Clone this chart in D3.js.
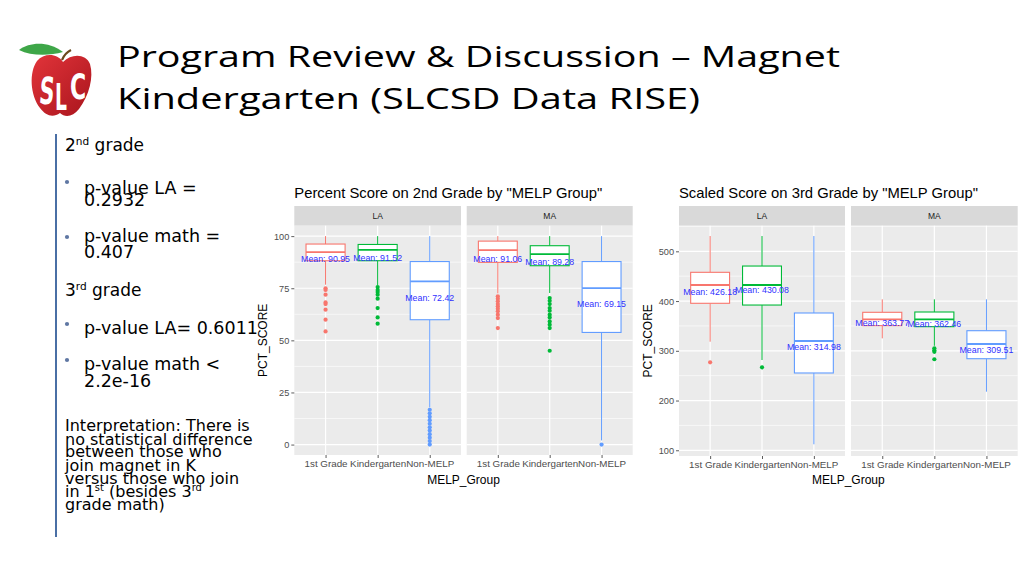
<!DOCTYPE html>
<html>
<head>
<meta charset="utf-8">
<script src="https://cdn.jsdelivr.net/npm/d3@7"></script>
<style>
  html, body { margin: 0; padding: 0; background: #fff; }
  svg { display: block; }
</style>
</head>
<body>
<svg id="slide" width="1024" height="576"></svg>
<script>
// ---------------- DATA ----------------
const groups = ["1st Grade", "Kindergarten", "Non-MELP"];
const facets = ["LA", "MA"];
const groupColors = ["#F8766D", "#00BA38", "#619CFF"];

// Chart 1: Percent Score on 2nd Grade. Box stats: [lower whisker, Q1, median, Q3, upper whisker]
const pctLABoxes = [[76.7, 88.2, 92.3, 96.2, 100], [76.5, 88.2, 93.4, 96.0, 100], [17.8, 59.9, 78.3, 87.8, 100]];
const pctMABoxes = [[72.5, 87.4, 93.3, 97.6, 100], [72.7, 85.8, 91.4, 95.4, 100], [2.0, 53.8, 75.1, 87.8, 100]];
const pctLAOutliers = [
  [75.0, 74.2, 71.9, 68.2, 67.4, 64.7, 59.9, 54.3],
  [75.6, 74.2, 73.2, 71.9, 70.0, 65.5, 61.0, 58.0],
  [16.7, 15.0, 13.3, 11.7, 10.0, 8.3, 6.7, 5.0, 3.3, 1.7, 0]
];
const pctMAOutliers = [
  [71.1, 70.0, 68.7, 67.4, 66.3, 65.2, 63.9, 62.3, 60.7, 55.9],
  [70.3, 69.0, 67.4, 65.5, 64.2, 62.3, 61.0, 59.1, 57.5, 55.9, 45.0],
  [0]
];
const pctLAMeans = [90.95, 91.52, 72.42];
const pctMAMeans = [91.06, 89.28, 69.15];
const pctTicks = [0, 25, 50, 75, 100];
const pctMinorTicks = [12.5, 37.5, 62.5, 87.5];
const pctDomain = [-5, 105];

// Chart 2: Scaled Score on 3rd Grade
const sclLABoxes = [[318.3, 395.5, 432.3, 457.8, 530.7], [281.5, 392.0, 432.3, 470.4, 530.7], [112.0, 255.4, 319.7, 376.0, 530.7]];
const sclMABoxes = [[325.0, 350.6, 363.3, 377.4, 403.5], [310.0, 348.5, 363.3, 378.0, 403.5], [217.8, 284.1, 313.7, 340.4, 403.5]];
const sclLAOutliers = [[276.9], [266.8], []];
const sclMAOutliers = [[], [305.0, 301.0, 298.0, 283.0], []];
const sclLAMeans = [426.18, 430.08, 314.98];
const sclMAMeans = [363.77, 362.46, 309.51];
const sclTicks = [100, 200, 300, 400, 500];
const sclMinorTicks = [150, 250, 350, 450, 550];
const sclDomain = [88.5, 551.5];

// ---------------- DRAWING ----------------
const svg = d3.select("#slide");

// Logo (decorative apple)
const logo = svg.append("g");
const grad = svg.append("defs").append("linearGradient").attr("id", "appleGrad")
  .attr("x1", "0").attr("y1", "0").attr("x2", "1").attr("y2", "1");
grad.append("stop").attr("offset", "0%").attr("stop-color", "#e2343a");
grad.append("stop").attr("offset", "100%").attr("stop-color", "#a9151d");
logo.append("path")
  .attr("d", "M63,62 C57,53 44,53 37,61 C29,72 30,95 40,108 C46,116 53,118 60,113 C65,118 73,117 79,109 C89,96 94,77 90,64 C86,54 72,53 63,62 Z")
  .attr("fill", "url(#appleGrad)");
logo.append("path")
  .attr("d", "M19,50 C30,42 48,41 63,52 C49,56 31,56 19,50 Z")
  .attr("fill", "#3ea648");
logo.append("path").attr("d", "M62,60 C64,55 67,52 71,50").attr("stroke", "#6b4a1e").attr("stroke-width", 2.2).attr("fill", "none");
const logoFont = "DejaVu Sans";
logo.append("text").attr("font-family", logoFont).attr("font-weight", "bold").attr("font-size", 22)
  .attr("fill", "#fff").attr("text-anchor", "middle")
  .attr("transform", "translate(46,104) scale(0.95,1.7) skewX(-8)").text("S");
logo.append("text").attr("font-family", logoFont).attr("font-weight", "bold").attr("font-size", 22)
  .attr("fill", "#fff").attr("text-anchor", "middle")
  .attr("transform", "translate(61,110) scale(0.85,1.7)").text("L");
logo.append("text").attr("font-family", logoFont).attr("font-weight", "bold").attr("font-size", 22)
  .attr("fill", "#fff").attr("text-anchor", "middle")
  .attr("transform", "translate(78,99) scale(1,1.6)").text("C");

// Slide title
const titleLines = [
  { t: "Program Review & Discussion \u2013 Magnet", y: 67, w: 723 },
  { t: "Kindergarten (SLCSD Data RISE)", y: 109, w: 583 }
];
titleLines.forEach(l => {
  svg.append("text").attr("x", 117).attr("y", l.y)
    .attr("font-family", "Open Sans").attr("font-size", 30).attr("fill", "#000")
    .attr("textLength", l.w).attr("lengthAdjust", "spacingAndGlyphs").text(l.t);
});

// Left text column
svg.append("line").attr("x1", 56).attr("x2", 56).attr("y1", 134).attr("y2", 537)
  .attr("stroke", "#4a6fa5").attr("stroke-width", 2);
const bodyFont = "DejaVu Sans";
function bodyText(x, y, parts, size) {
  const t = svg.append("text").attr("x", x).attr("y", y).attr("font-family", bodyFont)
    .attr("font-size", size).attr("fill", "#000");
  let raised = false;
  parts.forEach(p => {
    if (typeof p === "string") {
      const s = t.append("tspan").text(p);
      if (raised) { s.attr("dy", size * 0.38); raised = false; }
    } else {
      t.append("tspan").attr("font-size", size * 0.62).attr("dy", -size * 0.38).text(p.sup);
      raised = true;
    }
  });
  return t;
}
function bullet(y) {
  svg.append("circle").attr("cx", 67).attr("cy", y).attr("r", 2.1).attr("fill", "#5f77a3");
}
const headSize = 17, bulletSize = 17.5, interpSize = 16;
bodyText(65, 151, ["2", { sup: "nd" }, " grade"], headSize);
bullet(182); bodyText(84, 194, ["p-value LA ="], bulletSize); bodyText(84, 205.5, ["0.2932"], bulletSize);
bullet(237); bodyText(84, 242, ["p-value math ="], bulletSize); bodyText(84, 258, ["0.407"], bulletSize);
bodyText(65, 296, ["3", { sup: "rd" }, " grade"], headSize);
bullet(324); bodyText(84, 334, ["p-value LA= 0.6011"], bulletSize);
bullet(360); bodyText(84, 370, ["p-value math <"], bulletSize); bodyText(84, 386.5, ["2.2e-16"], bulletSize);
const interp = [
  ["Interpretation: There is"],
  ["no statistical difference"],
  ["between those who"],
  ["join magnet in K"],
  ["versus those who join"],
  ["in 1", { sup: "st" }, " (besides 3", { sup: "rd" }],
  ["grade math)"]
];
const interpY = [431, 444.5, 457, 470.5, 483.5, 497, 510];
interp.forEach((p, i) => bodyText(65, interpY[i], p, interpSize));

// ---------------- ggplot-like boxplot charts ----------------
function drawChart(cfg) {
  const g = svg.append("g");
  const y = d3.scaleLinear().domain(cfg.domain).range([cfg.bottom, cfg.top]);
  // title
  g.append("text").attr("x", cfg.panels[0].x0).attr("y", cfg.titleY)
    .attr("font-family", "Liberation Sans").attr("font-size", 14.8).attr("fill", "#000").text(cfg.title);
  cfg.panels.forEach((p, pi) => {
    const x = d3.scaleLinear().domain([0.4, 3.6]).range([p.x0, p.x1]);
    // strip
    g.append("rect").attr("x", p.x0).attr("y", cfg.stripTop).attr("width", p.x1 - p.x0)
      .attr("height", cfg.top - cfg.stripTop).attr("fill", "#D9D9D9");
    g.append("text").attr("x", (p.x0 + p.x1) / 2).attr("y", (cfg.stripTop + cfg.top) / 2 + 3)
      .attr("text-anchor", "middle").attr("font-family", "Liberation Sans").attr("font-size", 8.5)
      .attr("fill", "#1A1A1A").text(facets[pi]);
    // panel
    g.append("rect").attr("x", p.x0).attr("y", cfg.top).attr("width", p.x1 - p.x0)
      .attr("height", cfg.bottom - cfg.top).attr("fill", "#EBEBEB");
    cfg.minor.forEach(v => g.append("line").attr("x1", p.x0).attr("x2", p.x1)
      .attr("y1", y(v)).attr("y2", y(v)).attr("stroke", "#fff").attr("stroke-width", 0.6));
    cfg.ticks.forEach(v => g.append("line").attr("x1", p.x0).attr("x2", p.x1)
      .attr("y1", y(v)).attr("y2", y(v)).attr("stroke", "#fff").attr("stroke-width", 1.2));
    groups.forEach((gr, i) => g.append("line").attr("x1", x(i + 1)).attr("x2", x(i + 1))
      .attr("y1", cfg.top).attr("y2", cfg.bottom).attr("stroke", "#fff").attr("stroke-width", 1.2));
    // x axis
    const xAxis = d3.axisBottom(d3.scalePoint().domain(groups).range([x(1), x(3)]))
      .tickSize(3).tickPadding(2);
    const xa = g.append("g").attr("transform", `translate(0,${cfg.bottom})`).call(xAxis);
    xa.select(".domain").remove();
    xa.selectAll(".tick line").attr("stroke", "#333").attr("stroke-width", 0.8);
    xa.selectAll(".tick text").attr("font-family", "Liberation Sans").attr("font-size", 9.8)
      .attr("fill", "#4D4D4D");
    // boxes
    const boxes = cfg.boxes[pi], outs = cfg.outliers[pi], means = cfg.means[pi];
    const bw = 0.375;
    groups.forEach((gr, i) => {
      const b = boxes[i], c = groupColors[i], cx = x(i + 1);
      g.append("line").attr("x1", cx).attr("x2", cx).attr("y1", y(b[3])).attr("y2", y(b[4]))
        .attr("stroke", c).attr("stroke-width", 1);
      g.append("line").attr("x1", cx).attr("x2", cx).attr("y1", y(b[1])).attr("y2", y(b[0]))
        .attr("stroke", c).attr("stroke-width", 1);
      g.append("rect").attr("x", x(i + 1 - bw)).attr("y", y(b[3]))
        .attr("width", x(i + 1 + bw) - x(i + 1 - bw)).attr("height", y(b[1]) - y(b[3]))
        .attr("fill", "#fff").attr("stroke", c).attr("stroke-width", 1.1);
      g.append("line").attr("x1", x(i + 1 - bw)).attr("x2", x(i + 1 + bw))
        .attr("y1", y(b[2])).attr("y2", y(b[2])).attr("stroke", c).attr("stroke-width", 1.8);
      outs[i].forEach(v => g.append("circle").attr("cx", cx).attr("cy", y(v)).attr("r", 2.1).attr("fill", c));
    });
    groups.forEach((gr, i) => {
      g.append("text").attr("x", x(i + 1)).attr("y", y(means[i]) + 7).attr("text-anchor", "middle")
        .attr("font-family", "Liberation Sans").attr("font-size", 8.8).attr("fill", "#3030ff")
        .text("Mean: " + means[i].toFixed(2));
    });
  });
  // y axis
  const ya = g.append("g").attr("transform", `translate(${cfg.panels[0].x0},0)`)
    .call(d3.axisLeft(y).tickValues(cfg.ticks).tickSize(3).tickPadding(2).tickFormat(d3.format("d")));
  ya.select(".domain").remove();
  ya.selectAll(".tick line").attr("stroke", "#333").attr("stroke-width", 0.8);
  ya.selectAll(".tick text").attr("font-family", "Liberation Sans").attr("font-size", 9.2)
    .attr("fill", "#4D4D4D");
  // axis titles
  g.append("text").attr("transform", `translate(${cfg.yTitleX},${(cfg.top + cfg.bottom) / 2}) rotate(-90)`)
    .attr("text-anchor", "middle").attr("font-family", "Liberation Sans").attr("font-size", 12)
    .attr("fill", "#000").text("PCT_SCORE");
  g.append("text").attr("x", (cfg.panels[0].x0 + cfg.panels[1].x1) / 2).attr("y", 484)
    .attr("text-anchor", "middle").attr("font-family", "Liberation Sans").attr("font-size", 12)
    .attr("fill", "#000").text("MELP_Group");
}

drawChart({
  title: "Percent Score on 2nd Grade by \"MELP Group\"",
  titleY: 198,
  domain: pctDomain, ticks: pctTicks, minor: pctMinorTicks,
  stripTop: 206, top: 225.7, bottom: 455,
  panels: [{ x0: 294.3, x1: 461 }, { x0: 466.7, x1: 632.7 }],
  boxes: [pctLABoxes, pctMABoxes], outliers: [pctLAOutliers, pctMAOutliers], means: [pctLAMeans, pctMAMeans],
  yTitleX: 267
});
drawChart({
  title: "Scaled Score on 3rd Grade by \"MELP Group\"",
  titleY: 197.5,
  domain: sclDomain, ticks: sclTicks, minor: sclMinorTicks,
  stripTop: 206, top: 225.7, bottom: 456,
  panels: [{ x0: 679, x1: 845 }, { x0: 851, x1: 1017.7 }],
  boxes: [sclLABoxes, sclMABoxes], outliers: [sclLAOutliers, sclMAOutliers], means: [sclLAMeans, sclMAMeans],
  yTitleX: 652
});
</script>
</body>
</html>
